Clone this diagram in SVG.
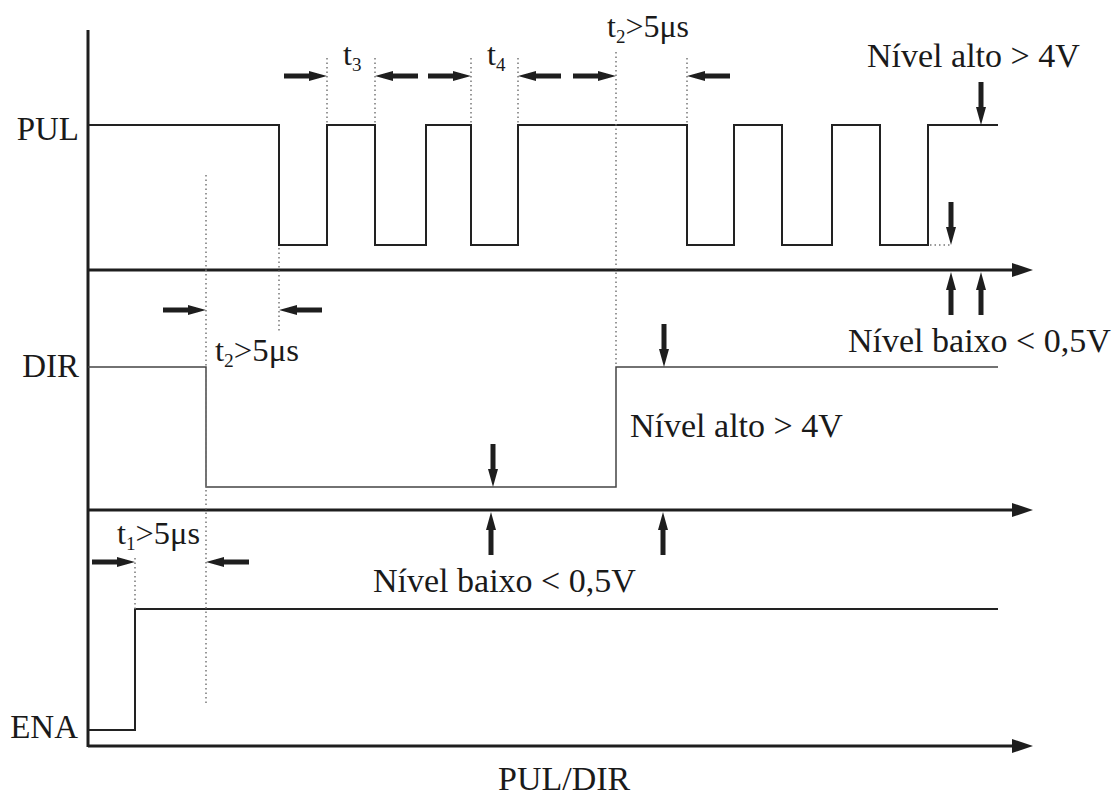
<svg xmlns="http://www.w3.org/2000/svg" width="1115" height="795" viewBox="0 0 1115 795">
<style>
.ax{stroke:#1e1e1e;stroke-width:3;fill:none}
.sig{stroke:#222;stroke-width:2;fill:none}
.sigd{stroke:#444;stroke-width:1.5;fill:none}
.dot{stroke:#777;stroke-width:1.5;stroke-dasharray:1.5 3;fill:none}
.t{font-family:"Liberation Serif","Times New Roman",serif;fill:#1a1a1a}
.big{font-size:34px}
.lab{font-size:33px}
.tm{font-size:32px}
.sub{font-size:19px}
.arr{fill:#1e1e1e}
</style>
<defs>
<path id="h" class="arr" d="M-43,-2.5 H-18 V-5 L0,0 L-18,5 V2.5 H-43 Z"/>
<path id="axh" d="M-21,-7 L0,0 L-21,7 Z" fill="#1e1e1e"/>
</defs>

<g id="axes">
<line class="ax" x1="88" y1="30" x2="88" y2="747"/>
<line class="ax" x1="88" y1="270" x2="1015" y2="270"/>
<use href="#axh" transform="translate(1033,270)"/>
<line class="ax" x1="88" y1="510" x2="1015" y2="510"/>
<use href="#axh" transform="translate(1033,510)"/>
<line class="ax" x1="88" y1="746" x2="1015" y2="746"/>
<use href="#axh" transform="translate(1033,746)"/>
</g>

<g id="pul">
<path class="sig" d="M88,125 H279 V245 H327 V125 H375 V245 H426 V125 H471 V245 H518 V125 H687 V245 H734 V125 H782 V245 H832 V125 H880 V245 H928 V125 H998"/>
<path class="dot" d="M930,245 H952"/>
<text class="t lab" x="79" y="140" text-anchor="end">PUL</text>
</g>

<g id="dir">
<path class="sigd" d="M88,367 H206 V487 H616 V367 H998"/>
<text class="t lab" x="79" y="377" text-anchor="end">DIR</text>
</g>

<g id="ena">
<path class="sig" d="M88,730 H135 V609 H998"/>
<text class="t lab" x="78" y="738" text-anchor="end">ENA</text>
</g>

<g id="guides">
<line class="dot" x1="206" y1="175" x2="206" y2="705"/>
<line class="dot" x1="279" y1="248" x2="279" y2="332"/>
<line class="dot" x1="327" y1="58" x2="327" y2="125"/>
<line class="dot" x1="375" y1="58" x2="375" y2="125"/>
<line class="dot" x1="471" y1="58" x2="471" y2="125"/>
<line class="dot" x1="518" y1="58" x2="518" y2="125"/>
<line class="dot" x1="616" y1="52" x2="616" y2="367"/>
<line class="dot" x1="687" y1="58" x2="687" y2="125"/>
<line class="dot" x1="135" y1="558" x2="135" y2="609"/>
</g>

<g id="connectors">
<use href="#h" transform="translate(327,76)"/>
<use href="#h" transform="translate(375,76) rotate(180)"/>
<use href="#h" transform="translate(471,76)"/>
<use href="#h" transform="translate(518,76) rotate(180)"/>
<use href="#h" transform="translate(616,76)"/>
<use href="#h" transform="translate(687,76) rotate(180)"/>
<use href="#h" transform="translate(206,310)"/>
<use href="#h" transform="translate(279,310) rotate(180)"/>
<use href="#h" transform="translate(135,562)"/>
<use href="#h" transform="translate(206,562) rotate(180)"/>
<use href="#h" transform="translate(981,125) rotate(90)"/>
<use href="#h" transform="translate(951,245) rotate(90)"/>
<use href="#h" transform="translate(664,367) rotate(90)"/>
<use href="#h" transform="translate(493,487) rotate(90)"/>
<use href="#h" transform="translate(951,272) rotate(-90)"/>
<use href="#h" transform="translate(981,272) rotate(-90)"/>
<use href="#h" transform="translate(491,512) rotate(-90)"/>
<use href="#h" transform="translate(663,512) rotate(-90)"/>
</g>

<g id="labels">
<text class="t tm" x="343" y="65">t<tspan class="sub" dy="6">3</tspan></text>
<text class="t tm" x="487" y="65">t<tspan class="sub" dy="6">4</tspan></text>
<text class="t tm" x="607" y="37" textLength="82" lengthAdjust="spacingAndGlyphs">t<tspan class="sub" dy="6">2</tspan><tspan dy="-6">&gt;5μs</tspan></text>
<text class="t tm" x="215" y="361" textLength="84" lengthAdjust="spacingAndGlyphs">t<tspan class="sub" dy="6">2</tspan><tspan dy="-6">&gt;5μs</tspan></text>
<text class="t tm" x="117" y="544" textLength="83" lengthAdjust="spacingAndGlyphs">t<tspan class="sub" dy="6">1</tspan><tspan dy="-6">&gt;5μs</tspan></text>
<text class="t big" x="867" y="67">Nível alto &gt; 4V</text>
<text class="t big" x="848" y="352">Nível baixo &lt; 0,5V</text>
<text class="t big" x="630" y="437">Nível alto &gt; 4V</text>
<text class="t big" x="373" y="592">Nível baixo &lt; 0,5V</text>
<text class="t big" x="498" y="790">PUL/DIR</text>
</g>
</svg>
